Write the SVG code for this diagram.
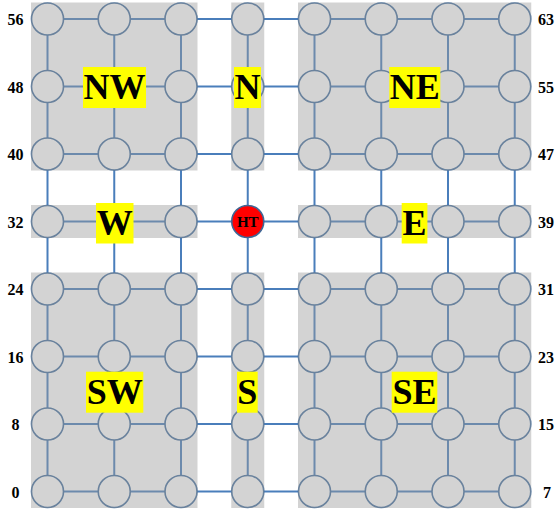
<svg xmlns="http://www.w3.org/2000/svg" width="556" height="512" viewBox="0 0 556 512">
<style>
.ln{stroke:#4a7ebb;stroke-width:2;fill:none}
.nd{fill:#ffffff;stroke:#45709f;stroke-width:1.6}
.ht{fill:#ff0000;stroke:#3f6796;stroke-width:1.6}
.rg{fill:#9a9a9a;fill-opacity:0.436}
.lb{fill:#ffff00}
.lt{font-family:"Liberation Serif","Times New Roman",serif;font-weight:bold;font-size:36px;text-anchor:middle;fill:#000}
.num{font-family:"Liberation Serif","Times New Roman",serif;font-weight:bold;font-size:16px;text-anchor:middle;fill:#000}
.htt{font-family:"Liberation Serif","Times New Roman",serif;font-weight:bold;font-size:15px;text-anchor:middle;fill:#000}
</style>
<rect width="556" height="512" fill="#ffffff"/>
<g id="connectors">
<line class="ln" x1="47.5" y1="19" x2="514.75" y2="19"/>
<line class="ln" x1="47.5" y1="86.5" x2="514.75" y2="86.5"/>
<line class="ln" x1="47.5" y1="154" x2="514.75" y2="154"/>
<line class="ln" x1="47.5" y1="221.5" x2="514.75" y2="221.5"/>
<line class="ln" x1="47.5" y1="289" x2="514.75" y2="289"/>
<line class="ln" x1="47.5" y1="356.5" x2="514.75" y2="356.5"/>
<line class="ln" x1="47.5" y1="424" x2="514.75" y2="424"/>
<line class="ln" x1="47.5" y1="491.5" x2="514.75" y2="491.5"/>
<line class="ln" x1="47.5" y1="19" x2="47.5" y2="491.5"/>
<line class="ln" x1="114.25" y1="19" x2="114.25" y2="491.5"/>
<line class="ln" x1="181" y1="19" x2="181" y2="491.5"/>
<line class="ln" x1="247.75" y1="19" x2="247.75" y2="491.5"/>
<line class="ln" x1="314.5" y1="19" x2="314.5" y2="491.5"/>
<line class="ln" x1="381.25" y1="19" x2="381.25" y2="491.5"/>
<line class="ln" x1="448" y1="19" x2="448" y2="491.5"/>
<line class="ln" x1="514.75" y1="19" x2="514.75" y2="491.5"/>
</g>
<g id="nodes">
<g id="n56"><circle class="nd" cx="47.5" cy="19" r="16"/></g>
<g id="n57"><circle class="nd" cx="114.25" cy="19" r="16"/></g>
<g id="n58"><circle class="nd" cx="181" cy="19" r="16"/></g>
<g id="n59"><circle class="nd" cx="247.75" cy="19" r="16"/></g>
<g id="n60"><circle class="nd" cx="314.5" cy="19" r="16"/></g>
<g id="n61"><circle class="nd" cx="381.25" cy="19" r="16"/></g>
<g id="n62"><circle class="nd" cx="448" cy="19" r="16"/></g>
<g id="n63"><circle class="nd" cx="514.75" cy="19" r="16"/></g>
<g id="n48"><circle class="nd" cx="47.5" cy="86.5" r="16"/></g>
<g id="n49"><circle class="nd" cx="114.25" cy="86.5" r="16"/></g>
<g id="n50"><circle class="nd" cx="181" cy="86.5" r="16"/></g>
<g id="n51"><circle class="nd" cx="247.75" cy="86.5" r="16"/></g>
<g id="n52"><circle class="nd" cx="314.5" cy="86.5" r="16"/></g>
<g id="n53"><circle class="nd" cx="381.25" cy="86.5" r="16"/></g>
<g id="n54"><circle class="nd" cx="448" cy="86.5" r="16"/></g>
<g id="n55"><circle class="nd" cx="514.75" cy="86.5" r="16"/></g>
<g id="n40"><circle class="nd" cx="47.5" cy="154" r="16"/></g>
<g id="n41"><circle class="nd" cx="114.25" cy="154" r="16"/></g>
<g id="n42"><circle class="nd" cx="181" cy="154" r="16"/></g>
<g id="n43"><circle class="nd" cx="247.75" cy="154" r="16"/></g>
<g id="n44"><circle class="nd" cx="314.5" cy="154" r="16"/></g>
<g id="n45"><circle class="nd" cx="381.25" cy="154" r="16"/></g>
<g id="n46"><circle class="nd" cx="448" cy="154" r="16"/></g>
<g id="n47"><circle class="nd" cx="514.75" cy="154" r="16"/></g>
<g id="n32"><circle class="nd" cx="47.5" cy="221.5" r="16"/></g>
<g id="n33"><circle class="nd" cx="114.25" cy="221.5" r="16"/></g>
<g id="n34"><circle class="nd" cx="181" cy="221.5" r="16"/></g>
<g id="n36"><circle class="nd" cx="314.5" cy="221.5" r="16"/></g>
<g id="n37"><circle class="nd" cx="381.25" cy="221.5" r="16"/></g>
<g id="n38"><circle class="nd" cx="448" cy="221.5" r="16"/></g>
<g id="n39"><circle class="nd" cx="514.75" cy="221.5" r="16"/></g>
<g id="n24"><circle class="nd" cx="47.5" cy="289" r="16"/></g>
<g id="n25"><circle class="nd" cx="114.25" cy="289" r="16"/></g>
<g id="n26"><circle class="nd" cx="181" cy="289" r="16"/></g>
<g id="n27"><circle class="nd" cx="247.75" cy="289" r="16"/></g>
<g id="n28"><circle class="nd" cx="314.5" cy="289" r="16"/></g>
<g id="n29"><circle class="nd" cx="381.25" cy="289" r="16"/></g>
<g id="n30"><circle class="nd" cx="448" cy="289" r="16"/></g>
<g id="n31"><circle class="nd" cx="514.75" cy="289" r="16"/></g>
<g id="n16"><circle class="nd" cx="47.5" cy="356.5" r="16"/></g>
<g id="n17"><circle class="nd" cx="114.25" cy="356.5" r="16"/></g>
<g id="n18"><circle class="nd" cx="181" cy="356.5" r="16"/></g>
<g id="n19"><circle class="nd" cx="247.75" cy="356.5" r="16"/></g>
<g id="n20"><circle class="nd" cx="314.5" cy="356.5" r="16"/></g>
<g id="n21"><circle class="nd" cx="381.25" cy="356.5" r="16"/></g>
<g id="n22"><circle class="nd" cx="448" cy="356.5" r="16"/></g>
<g id="n23"><circle class="nd" cx="514.75" cy="356.5" r="16"/></g>
<g id="n8"><circle class="nd" cx="47.5" cy="424" r="16"/></g>
<g id="n9"><circle class="nd" cx="114.25" cy="424" r="16"/></g>
<g id="n10"><circle class="nd" cx="181" cy="424" r="16"/></g>
<g id="n11"><circle class="nd" cx="247.75" cy="424" r="16"/></g>
<g id="n12"><circle class="nd" cx="314.5" cy="424" r="16"/></g>
<g id="n13"><circle class="nd" cx="381.25" cy="424" r="16"/></g>
<g id="n14"><circle class="nd" cx="448" cy="424" r="16"/></g>
<g id="n15"><circle class="nd" cx="514.75" cy="424" r="16"/></g>
<g id="n0"><circle class="nd" cx="47.5" cy="491.5" r="16"/></g>
<g id="n1"><circle class="nd" cx="114.25" cy="491.5" r="16"/></g>
<g id="n2"><circle class="nd" cx="181" cy="491.5" r="16"/></g>
<g id="n3"><circle class="nd" cx="247.75" cy="491.5" r="16"/></g>
<g id="n4"><circle class="nd" cx="314.5" cy="491.5" r="16"/></g>
<g id="n5"><circle class="nd" cx="381.25" cy="491.5" r="16"/></g>
<g id="n6"><circle class="nd" cx="448" cy="491.5" r="16"/></g>
<g id="n7"><circle class="nd" cx="514.75" cy="491.5" r="16"/></g>
</g>
<g id="regions">
<rect class="rg" x="31" y="2.5" width="166.5" height="168"/>
<rect class="rg" x="231.25" y="2.5" width="33" height="168"/>
<rect class="rg" x="298" y="2.5" width="233.25" height="168"/>
<rect class="rg" x="31" y="205" width="166.5" height="33"/>
<rect class="rg" x="298" y="205" width="233.25" height="33"/>
<rect class="rg" x="31" y="272.5" width="166.5" height="235.5"/>
<rect class="rg" x="231.25" y="272.5" width="33" height="235.5"/>
<rect class="rg" x="298" y="272.5" width="233.25" height="235.5"/>
</g>
<g id="n35"><circle class="ht" cx="247.75" cy="221.5" r="16"/><text class="htt" x="247.75" y="227">HT</text></g>
<g id="labels">
<g id="lNW"><rect class="lb" x="83" y="67" width="63" height="41"/><text class="lt" x="114.4" y="99.3">NW</text></g>
<g id="lN"><rect class="lb" x="234" y="67" width="27" height="41"/><text class="lt" x="247.5" y="99.3">N</text></g>
<g id="lNE"><rect class="lb" x="389.3" y="67" width="51" height="41"/><text class="lt" x="414.8" y="99.3">NE</text></g>
<g id="lW"><rect class="lb" x="96" y="203" width="37.5" height="40.5"/><text class="lt" x="114.75" y="235">W</text></g>
<g id="lE"><rect class="lb" x="401.7" y="203" width="25.7" height="40.5"/><text class="lt" x="414.55" y="235">E</text></g>
<g id="lSW"><rect class="lb" x="86" y="371.7" width="57.3" height="41"/><text class="lt" x="114.65" y="404">SW</text></g>
<g id="lS"><rect class="lb" x="237" y="371.7" width="20.7" height="41"/><text class="lt" x="247.35" y="404">S</text></g>
<g id="lSE"><rect class="lb" x="391.7" y="371.7" width="45.6" height="41"/><text class="lt" x="414.5" y="404">SE</text></g>
</g>
<g id="numbers">
<text class="num" x="15.5" y="25">56</text>
<text class="num" x="15.5" y="92.5">48</text>
<text class="num" x="15.5" y="160">40</text>
<text class="num" x="15.5" y="227.5">32</text>
<text class="num" x="15.5" y="295">24</text>
<text class="num" x="15.5" y="362.5">16</text>
<text class="num" x="15.5" y="430">8</text>
<text class="num" x="15.5" y="497.5">0</text>
<text class="num" x="546" y="25">63</text>
<text class="num" x="546" y="92.5">55</text>
<text class="num" x="546" y="160">47</text>
<text class="num" x="546" y="227.5">39</text>
<text class="num" x="546" y="295">31</text>
<text class="num" x="546" y="362.5">23</text>
<text class="num" x="546" y="430">15</text>
<text class="num" x="547" y="497.5">7</text>
</g>
</svg>
